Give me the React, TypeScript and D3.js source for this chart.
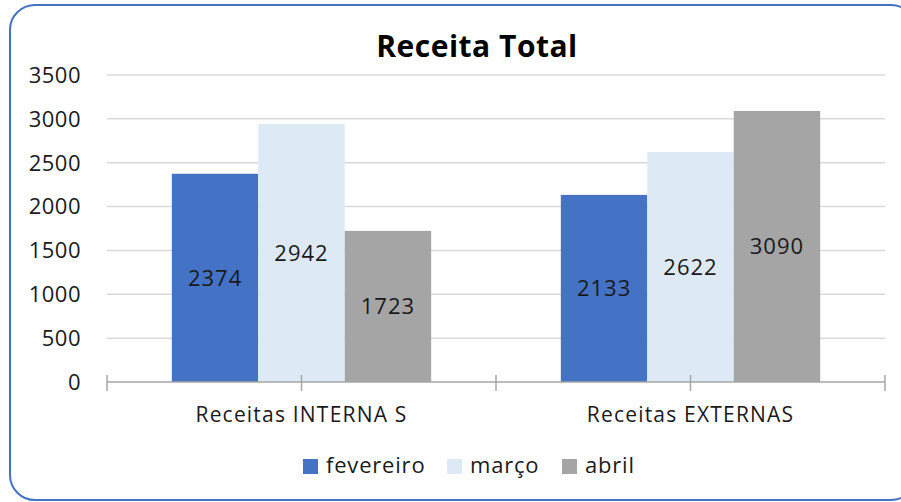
import * as d3 from 'd3'

const categories = ['Receitas INTERNA S', 'Receitas EXTERNAS']
const seriesNames = ['fevereiro', 'março', 'abril']
const fevereiro = [2374, 2133]
const marco = [2942, 2622]
const abril = [1723, 3090]
const yTicks = [0, 500, 1000, 1500, 2000, 2500, 3000, 3500]

const colors = ['#4472C4', '#DDEAF6', '#A5A5A5']
const seriesValues = [fevereiro, marco, abril]
const FONT = '"Open Sans", "DejaVu Sans", sans-serif'

export default function App() {
  const W = 901
  const H = 502
  const plot = { left: 107, right: 885, top: 75, bottom: 382 }

  const x0 = d3.scaleBand<string>().domain(categories).range([plot.left, plot.right])
  const x1 = d3
    .scaleBand<string>()
    .domain(seriesNames)
    .range([0, x0.bandwidth()])
    .paddingInner(0)
    .paddingOuter(0.75)
  const y = d3.scaleLinear().domain([0, 3500]).range([plot.bottom, plot.top])

  // ticks at category edges and centres
  const xTickPos: number[] = []
  categories.forEach((c) => {
    const s = x0(c) ?? 0
    xTickPos.push(s, s + x0.bandwidth() / 2)
  })
  xTickPos.push(plot.right)

  const legendX = [303, 447, 562]

  // chart frame: only the corners that fall inside the window
  const fl = 10, ft = 5, fr = 916, fb = 500, r = 25
  const framePath = d3.path()
  framePath.moveTo(fr, ft + r)
  framePath.arcTo(fr, ft, fr - r, ft, r)
  framePath.lineTo(fl + r, ft)
  framePath.arcTo(fl, ft, fl, ft + r, r)
  framePath.lineTo(fl, fb - r)
  framePath.arcTo(fl, fb, fl + r, fb, r)
  framePath.lineTo(fr - r, fb)
  framePath.arcTo(fr, fb, fr, fb - r, r)

  return (
    <svg
      width={W}
      height={H}
      style={{ position: 'absolute', left: 0, top: 0, background: '#fff', overflow: 'hidden' }}
      fontFamily={FONT}
    >
      <path d={framePath.toString()} fill="none" stroke="#4472C4" strokeWidth={2} />

      <text x={477} y={57} textAnchor="middle" fontSize={30} fontWeight="bold" letterSpacing={0.5} fill="#000">
        Receita Total
      </text>

      {/* gridlines + y labels */}
      {yTicks.map((t) => (
        <g key={t}>
          {t > 0 && (
            <line x1={plot.left} x2={plot.right} y1={y(t)} y2={y(t)} stroke="#D9D9D9" strokeWidth={1.5} />
          )}
          <text x={81} y={y(t)} dy="0.36em" textAnchor="end" fontSize={22} letterSpacing={0.5} fill="#1a1a1a">
            {t}
          </text>
        </g>
      ))}

      {/* bars */}
      {categories.map((c, ci) => (
        <g key={c}>
          {seriesNames.map((s, si) => {
            const v = seriesValues[si][ci]
            const bx = (x0(c) ?? 0) + (x1(s) ?? 0)
            return (
              <g key={s}>
                <rect x={bx} y={y(v)} width={x1.bandwidth()} height={plot.bottom - y(v)} fill={colors[si]} />
                <text
                  x={bx + x1.bandwidth() / 2}
                  y={(y(v) + plot.bottom) / 2}
                  dy="0.36em"
                  textAnchor="middle"
                  fontSize={22}
                  letterSpacing={1}
                  fill="#1a1a1a"
                >
                  {v}
                </text>
              </g>
            )
          })}
        </g>
      ))}

      {/* x axis */}
      <line x1={plot.left} x2={plot.right} y1={plot.bottom} y2={plot.bottom} stroke="#A6A6A6" strokeWidth={1.5} />
      {xTickPos.map((p, i) => (
        <line key={i} x1={p} x2={p} y1={plot.bottom - 7} y2={plot.bottom + 9} stroke="#A6A6A6" strokeWidth={1.5} />
      ))}
      {categories.map((c) => (
        <text
          key={c}
          x={(x0(c) ?? 0) + x0.bandwidth() / 2}
          y={422}
          textAnchor="middle"
          fontSize={21}
          letterSpacing={1.2}
          fill="#1a1a1a"
        >
          {c}
        </text>
      ))}

      {/* legend */}
      {seriesNames.map((s, i) => (
        <g key={s} transform={`translate(${legendX[i]},0)`}>
          <rect x={0} y={459} width={15} height={15} fill={colors[i]} />
          <text x={23} y={473} fontSize={22} letterSpacing={0.8} fill="#1a1a1a">
            {s}
          </text>
        </g>
      ))}
    </svg>
  )
}
